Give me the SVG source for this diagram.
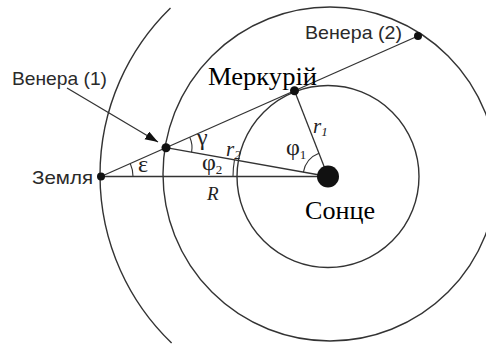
<svg xmlns="http://www.w3.org/2000/svg" width="486" height="347" viewBox="0 0 486 347">
<style>
.orb{fill:none;stroke:#333;stroke-width:1.4}
.ln{fill:none;stroke:#333;stroke-width:1.3}
.arc{fill:none;stroke:#333;stroke-width:1.1}
.dot{fill:#111}
.sans{font-family:"Liberation Sans",Arial,sans-serif;font-size:19px;fill:#2a2a2a}
.ser{font-family:"Liberation Serif","Times New Roman",serif;font-size:26px;fill:#000}
.sym{font-family:"Liberation Serif","Times New Roman",serif;font-size:21px;fill:#222}
.gk{font-size:24px}
.it{font-style:italic}
.sub{font-size:13px}
</style>
<defs>
<marker id="ah" markerUnits="userSpaceOnUse" markerWidth="14" markerHeight="10" refX="13" refY="4.5" orient="auto">
<path d="M0,0 L13,4.5 L0,9 z" fill="#111"/>
</marker>
</defs>
<rect width="486" height="347" fill="#fff"/>
<g id="orbits">
<path id="earth-orbit" class="orb" d="M170.5,8 A233,233 0 0 0 171.6,343"/>
<circle id="venus-orbit" class="orb" cx="330" cy="174" r="167"/>
<circle id="mercury-orbit" class="orb" cx="328" cy="176.5" r="91"/>
</g>
<g id="connectors">
<line class="ln" x1="101" y1="176.5" x2="328" y2="176.5"/>
<line class="ln" x1="101" y1="176.5" x2="418" y2="36"/>
<line class="ln" x1="166" y1="147.7" x2="328" y2="176.5"/>
<line class="ln" x1="294.5" y1="90.7" x2="328" y2="176.5"/>
<line class="ln" x1="67" y1="88" x2="158" y2="142" marker-end="url(#ah)"/>
</g>
<g id="angles">
<path class="arc" d="M133,176.5 A32,32 0 0 0 130.25,163.53"/>
<path class="arc" d="M189.77,137.17 A26,26 0 0 1 191.6,152.25"/>
<path class="arc" d="M233,176.5 A95,95 0 0 1 234.47,159.87"/>
<path class="arc" d="M303.39,172.12 A25,25 0 0 1 318.91,153.21"/>
</g>
<g id="sun"><circle class="dot" cx="328" cy="176.5" r="11"/><text class="ser" x="305" y="219" textLength="70" lengthAdjust="spacingAndGlyphs">Сонце</text></g>
<g id="earth"><circle class="dot" cx="101" cy="176.5" r="4"/><text class="sans" x="32" y="184" textLength="61" lengthAdjust="spacingAndGlyphs">Земля</text></g>
<g id="venus1"><circle class="dot" cx="166" cy="147.7" r="4.5"/><text class="sans" x="12" y="85" textLength="95" lengthAdjust="spacingAndGlyphs">Венера (1)</text></g>
<g id="venus2"><circle class="dot" cx="418" cy="36" r="4"/><text class="sans" x="305" y="39" textLength="97" lengthAdjust="spacingAndGlyphs">Венера (2)</text></g>
<g id="mercury"><circle class="dot" cx="294.5" cy="90.7" r="4.5"/><text class="ser" x="208" y="85" textLength="109" lengthAdjust="spacingAndGlyphs">Меркурій</text></g>
<g id="labels">
<text class="sym gk" x="138" y="172">ε</text>
<text class="sym gk" x="197" y="145">γ</text>
<text class="sym it" x="226" y="156">r<tspan class="sub" dy="3">2</tspan></text>
<text class="sym gk" x="202" y="170">φ<tspan class="sub" dy="4">2</tspan></text>
<text class="sym gk" x="286" y="155">φ<tspan class="sub" dy="4">1</tspan></text>
<text class="sym it" x="313" y="133">r<tspan class="sub" dy="3">1</tspan></text>
<text class="sym it" x="207" y="200" style="font-size:19px">R</text>
</g>
</svg>
